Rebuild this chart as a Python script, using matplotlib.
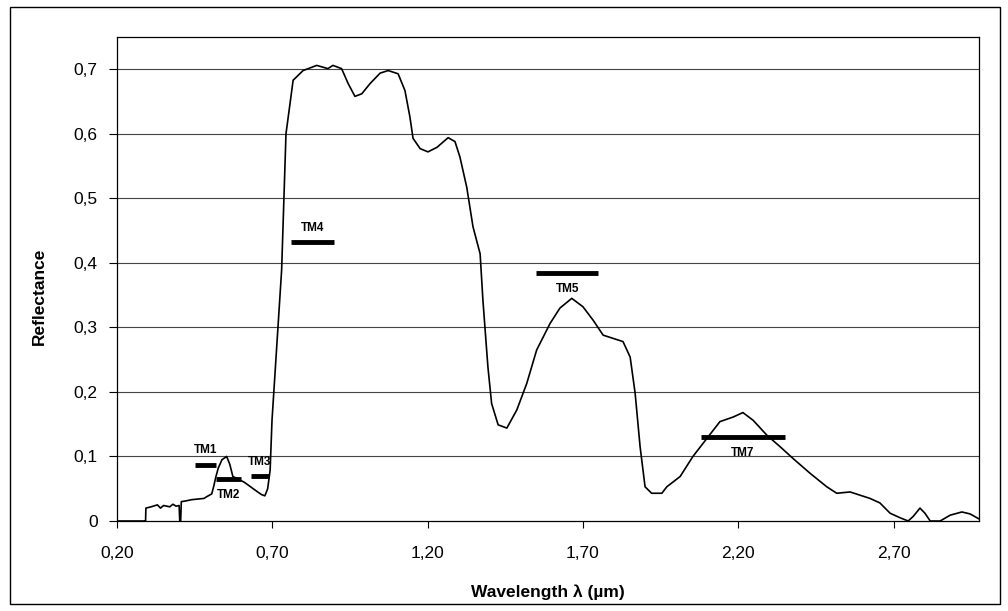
import matplotlib
matplotlib.use("Agg")
import matplotlib.pyplot as plt
from matplotlib.patches import Rectangle

plt.rcParams['font.family'] = ['Liberation Sans', 'DejaVu Sans']

# Spectral reflectance curve (wavelength in µm, reflectance)
wavelength = [0.20, 0.290, 0.292, 0.293, 0.31, 0.33, 0.34, 0.35, 0.37, 0.38, 0.39, 0.400,
              0.402, 0.405, 0.407, 0.42, 0.44, 0.46, 0.48, 0.49, 0.505, 0.512, 0.518, 0.526,
              0.538, 0.553, 0.563, 0.573, 0.59, 0.61, 0.63, 0.65, 0.665, 0.676, 0.685,
              0.693, 0.699, 0.730, 0.744, 0.767, 0.799, 0.843, 0.879, 0.895, 0.923, 0.944,
              0.966, 0.988, 1.015, 1.047, 1.073, 1.105, 1.127, 1.143, 1.153, 1.176, 1.201,
              1.230, 1.266, 1.288, 1.304, 1.326, 1.346, 1.369, 1.378, 1.394, 1.406, 1.427,
              1.455, 1.487, 1.519, 1.551, 1.594, 1.626, 1.664, 1.700, 1.733, 1.765, 1.797,
              1.829, 1.852, 1.868, 1.884, 1.900, 1.921, 1.954, 1.970, 2.013, 2.054, 2.099,
              2.141, 2.183, 2.215, 2.248, 2.292, 2.335, 2.376, 2.431, 2.485, 2.517, 2.560,
              2.592, 2.624, 2.656, 2.689, 2.721, 2.747, 2.763, 2.785, 2.801, 2.818, 2.850,
              2.882, 2.920, 2.946, 2.976]
reflectance = [0.0, 0.0, 0.0, 0.020, 0.022, 0.025, 0.020, 0.024, 0.022, 0.026, 0.023, 0.024,
               0.0, 0.0, 0.030, 0.031, 0.033, 0.034, 0.035, 0.038, 0.042, 0.055, 0.068, 0.082,
               0.095, 0.100, 0.088, 0.069, 0.065, 0.060, 0.053, 0.046, 0.041, 0.039, 0.050,
               0.079, 0.156, 0.389, 0.600, 0.683, 0.698, 0.706, 0.701, 0.706, 0.701, 0.678,
               0.658, 0.662, 0.678, 0.694, 0.698, 0.693, 0.667, 0.626, 0.593, 0.577, 0.572,
               0.579, 0.594, 0.588, 0.564, 0.517, 0.456, 0.414, 0.342, 0.239, 0.182, 0.149,
               0.144, 0.172, 0.213, 0.265, 0.306, 0.330, 0.345, 0.332, 0.311, 0.288, 0.283,
               0.278, 0.254, 0.198, 0.115, 0.053, 0.043, 0.043, 0.053, 0.069, 0.100, 0.128,
               0.154, 0.161, 0.168, 0.156, 0.133, 0.115, 0.097, 0.074, 0.053, 0.043, 0.045,
               0.040, 0.035, 0.028, 0.012, 0.005, 0.0, 0.007, 0.020, 0.012, 0.0, 0.0,
               0.009, 0.014, 0.011, 0.003]

# Landsat TM bands: name, start, end, level
band_names = ["TM1", "TM2", "TM3", "TM4", "TM5", "TM7"]
band_start = [0.45, 0.52, 0.63, 0.76, 1.55, 2.08]
band_end = [0.52, 0.60, 0.69, 0.90, 1.75, 2.35]
band_level = [0.087, 0.065, 0.069, 0.432, 0.384, 0.130]
band_label_pos = ["above", "below", "above", "above", "below", "below"]

x_ticks = [0.20, 0.70, 1.20, 1.70, 2.20, 2.70]
x_tick_labels = ["0,20", "0,70", "1,20", "1,70", "2,20", "2,70"]
y_ticks = [0, 0.1, 0.2, 0.3, 0.4, 0.5, 0.6, 0.7]
y_tick_labels = ["0", "0,1", "0,2", "0,3", "0,4", "0,5", "0,6", "0,7"]

fig = plt.figure(figsize=(10.08, 6.11), dpi=100)
fig.patches.append(Rectangle((10 / 1008, 7 / 611), 990 / 1008, 597 / 611,
                             transform=fig.transFigure, fill=False,
                             edgecolor='black', linewidth=1.0))
ax = fig.add_axes([117 / 1008, 90 / 611, 862 / 1008, 484 / 611])

ax.set_xlim(0.2, 2.975)
ax.set_ylim(0, 0.75)

for yv in y_ticks[1:]:
    ax.axhline(yv, color='#444444', linewidth=0.8, zorder=1)

ax.plot(wavelength, reflectance, color='black', linewidth=1.2, zorder=3)

for name, s, e, lv, pos in zip(band_names, band_start, band_end, band_level, band_label_pos):
    ax.plot([s, e], [lv, lv], color='black', linewidth=3.5, solid_capstyle='butt', zorder=4)
    xm = (s + e) / 2
    if pos == "above":
        ax.text(xm, lv + 0.013, name, ha='center', va='bottom', fontsize=8.5, fontweight='bold')
    else:
        ax.text(xm, lv - 0.015, name, ha='center', va='top', fontsize=8.5, fontweight='bold')

ax.set_xticks(x_ticks)
ax.set_xticklabels(x_tick_labels, fontsize=12.5)
ax.set_yticks(y_ticks)
ax.set_yticklabels(y_tick_labels, fontsize=12.5)
ax.tick_params(axis='y', direction='out', length=6, width=0.8, pad=8)
ax.tick_params(axis='x', direction='out', length=5, width=0.8, pad=13)

for sp in ax.spines.values():
    sp.set_color('black')
    sp.set_linewidth(0.9)

ax.set_xlabel("Wavelength λ (µm)", fontsize=12.5, fontweight='bold', labelpad=17)
ax.set_ylabel("Reflectance", fontsize=12.5, fontweight='bold')
ax.yaxis.set_label_coords(-0.081, 0.465)

fig.savefig("out.png", dpi=100)
